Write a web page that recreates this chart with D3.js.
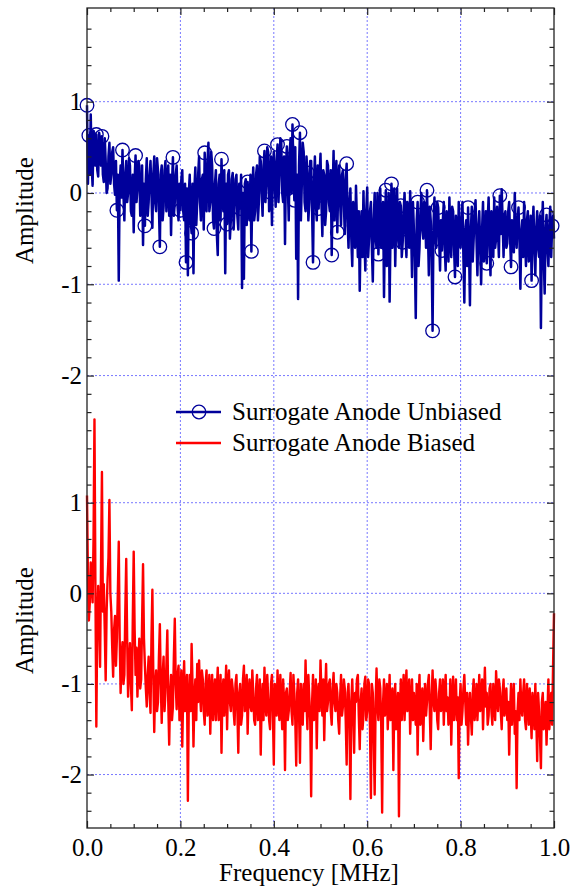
<!DOCTYPE html>
<html>
<head>
<meta charset="utf-8">
<script src="https://cdn.jsdelivr.net/npm/d3@7"></script>
<style>
  html, body { margin: 0; padding: 0; background: #fff; }
  svg { display: block; }
  svg text { font-family: 'Liberation Serif', 'DejaVu Serif', 'Times New Roman', Times, serif !important; }
</style>
</head>
<body>
<svg id="chart" width="580" height="888"></svg>
<script>
// ---------------- DATA ----------------
const freqStep = 0.002;               // MHz between samples (501 samples, 0..1 MHz)
const xTicks = [0, 0.2, 0.4, 0.6, 0.8, 1.0];
const xMinorTicks = d3.range(0, 1.0001, 0.05);
const yMajorTicks = [-2, -1, 0, 1];

const seriesNames = ["Surrogate Anode Unbiased", "Surrogate Anode Biased"];

// Surrogate Anode Unbiased (top panel)
const unbiased = [
  0.96, 0.1, 0.63, 0.2, 0.86, 0.3, 0.08, 0.68, 0.55, 0.3, 0.64, 0.25, 0.18, 0.66, 0.58, 0.3, 0.62, 0.2, 0.12, 0.6,
  0.35, 0.0, 0.05, 0.4, 0.55, 0.1, 0.2, 0.45, 0.5, 0.1, -0.02, 0.35, -0.19, 0.2, -0.96, 0.1, 0.3, -0.05, 0.47, 0.0,
  -0.3, 0.2, 0.35, -0.1, 0.0, 0.38, 0.3, -0.2, -0.25, 0.2, -0.43, 0.15, 0.41, -0.1, 0.05, 0.35, 0.3, -0.25, -0.15, 0.3,
  -0.57, 0.1, -0.36, 0.15, 0.38, -0.25, -0.1, 0.2, 0.35, 0.0, -0.38, 0.2, 0.4, -0.1, -0.2, 0.38, 0.25, -0.15, -0.59, 0.2,
  0.3, -0.3, -0.15, 0.25, 0.35, -0.2, 0.1, 0.3, -0.25, 0.2, -0.46, 0.1, 0.39, -0.25, -0.1, 0.2, 0.3, -0.15, -0.3, 0.1,
  -0.19, 0.15, 0.25, -0.2, -0.3, 0.1, -0.76, 0.05, -0.9, 0.0, 0.2, -0.3, -0.44, 0.1, -0.88, 0.05, 0.28, -0.35, -0.1, 0.2,
  0.4, -0.1, -0.3, 0.15, 0.2, -0.4, 0.44, 0.0, -0.2, 0.35, 0.55, -0.2, -0.1, 0.45, 0.3, -0.3, -0.39, 0.1, 0.25, -0.45,
  -0.68, 0.1, 0.2, -0.3, 0.37, 0.0, -0.2, 0.25, -0.88, 0.1, -0.34, 0.2, 0.25, -0.5, -0.3, 0.15, 0.22, -0.4, -0.15, 0.15,
  0.2, -0.25, -0.4, 0.1, -0.17, 0.2, -1.04, 0.0, -0.94, 0.1, 0.15, -0.35, 0.12, -0.2, -0.3, 0.2, -0.64, 0.0, 0.28, -0.3,
  -0.2, 0.2, 0.3, -0.3, -0.1, 0.4, 0.35, 0.0, -0.25, 0.3, 0.46, -0.1, 0.1, 0.5, 0.45, -0.2, 0.01, 0.4, -0.35, 0.25,
  0.45, 0.1, -0.15, 0.35, 0.53, -0.1, 0.2, 0.6, 0.55, 0.0, -0.1, 0.4, -0.56, 0.3, 0.51, 0.1, -0.3, 0.45, 0.6, 0.0,
  0.75, 0.3, -0.08, 0.5, -0.72, 0.2, -1.16, 0.3, 0.66, -0.3, 0.1, 0.55, 0.45, -0.1, -0.2, 0.4, 0.22, -0.3, -0.1, 0.35,
  0.35, -0.2, -0.76, 0.1, 0.4, -0.1, -0.3, 0.3, -0.17, 0.2, 0.43, -0.1, -0.47, 0.25, 0.2, -0.35, -0.2, 0.35, 0.3, -0.1,
  -0.2, 0.25, -0.68, 0.0, 0.46, -0.3, 0.1, 0.35, -0.43, 0.1, 0.3, -0.1, -0.35, 0.2, 0.25, -0.1, -0.45, 0.15, 0.32, -0.3,
  -0.6, -0.1, 0.05, -0.5, -0.8, -0.1, -0.36, -0.6, 0.08, -0.3, -0.7, -0.2, -1.07, -0.4, -0.2, -0.7, 0.02, -0.5, -0.85, -0.2,
  0.06, -0.7, -0.5, -0.2, -0.1, -0.6, -0.97, -0.3, 0.0, -0.5, -0.6, 0.0, -0.67, -0.3, 0.05, -0.6, -0.4, -0.1, -1.14, -0.3,
  0.03, -0.8, -0.5, 0.0, -1.19, -0.4, 0.10, -0.6, -0.3, 0.05, -0.8, -0.3, 0.05, -0.5, -0.6, -0.1, -0.14, -0.7, -0.54, -0.2,
  0.0, -0.45, -0.7, -0.1, -0.2, -0.6, 0.02, -0.4, -0.92, -0.1, -0.4, -0.7, -1.37, -0.3, -0.10, -0.8, -0.6, -0.2, 0.0, -0.4,
  -0.5, -0.1, -0.15, -0.6, 0.03, -0.4, -0.9, -0.15, -0.3, -0.7, -1.51, -0.35, -0.05, -0.5, -0.6, -0.1, -0.16, -0.5, -0.85, -0.3,
  -0.63, -0.3, -0.1, -0.6, -0.85, -0.2, -0.3, -0.75, -0.05, -0.45, -0.7, -0.15, -0.2, -0.6, -0.92, -0.25, -0.4, -0.8, -0.1, -0.45,
  -0.6, -0.3, -0.1, -0.7, -1.2, -0.4, -0.3, -0.8, -0.16, -0.6, -1.23, -0.4, -0.15, -0.75, -0.5, -0.2, -0.08, -0.5, -0.9, -0.4,
  -0.2, -0.6, -1.0, -0.4, -0.1, -0.75, -0.6, -0.2, -0.77, -0.3, -0.05, -0.55, -0.9, -0.2, -0.3, -0.7, -0.05, -0.6, -0.5, -0.15,
  -0.4, -0.7, -0.03, -0.45, 0.04, -0.3, -0.7, -0.25, -0.2, -0.6, -0.55, -0.2, -0.1, -0.5, -0.81, -0.3, -0.35, -0.65, 0.0, -0.4,
  -0.6, -0.3, -0.16, -0.5, -1.05, -0.45, -0.3, -0.7, -0.1, -0.5, -0.8, -0.3, -0.2, -0.75, -0.6, -0.25, -0.96, -0.4, -0.15, -0.6,
  -0.9, -0.4, -0.2, -0.6, -0.7, -0.25, -1.48, -0.5, -0.1, -0.7, -1.1, -0.4, -0.24, -0.6, -0.8, -0.35, -0.15, -0.7, -0.36, -0.25, -0.5
];

// sample indices of the unbiased series that carry a circle marker
const markerIdx = [0, 2, 10, 16, 32, 38, 52, 62, 78, 92, 100, 106, 112, 126, 136, 144, 150,
  164, 172, 176, 190, 196, 204, 214, 220, 222, 228, 236, 242, 248, 262, 268, 278, 286,
  312, 320, 326, 336, 338, 354, 364, 370, 376, 380, 394, 408, 428, 442, 454, 462,
  476, 492, 498];

// Surrogate Anode Biased (bottom panel)
const biased = [
  1.08, 0.2, -0.3, -0.1, 0.34, 0.1, -0.1, 0.6, 1.92, 0.1, -1.47, -0.3, 0.08, -0.3, -0.81, 0.3, 1.34, -0.2, 0.1, -0.4,
  -0.96, -0.2, 0.15, 0.4, 1.03, 0.0, -0.2, -0.6, -0.92, -0.4, -0.25, -0.8, -0.5, 0.0, 0.57, -0.5, -1.1, -0.7, -0.54, -1.0,
  -0.9, -0.2, 0.38, -0.5, -1.14, -0.8, -0.55, -1.0, -1.29, -0.3, 0.46, -0.4, -0.9, -0.6, -1.14, -0.8, -0.5, -1.05, -0.95, -0.3,
  0.32, -0.5, -0.8, -1.05, -1.25, -0.9, -0.7, -1.1, -1.32, -0.5, 0.04, -0.9, -1.53, -1.0, -0.85, -1.3, -1.2, -0.7, -0.34, -1.0,
  -1.43, -0.9, -0.7, -1.3, -1.1, -0.8, -0.41, -1.2, -1.67, -1.1, -0.9, -1.4, -1.25, -0.7, -0.28, -1.0, -1.28, -0.9, -0.8, -1.4,
  -1.2, -0.85, -1.69, -1.1, -0.75, -1.3, -1.1, -0.9, -2.29, -1.2, -0.9, -1.3, -0.56, -1.0, -1.69, -1.15, -0.95, -1.4, -0.78, -1.2,
  -0.74, -1.1, -1.3, -0.85, -0.95, -1.3, -1.45, -1.0, -0.85, -1.35, -1.2, -0.9, -1.55, -1.1, -0.9, -1.4, -1.15, -0.95, -1.4, -1.05,
  -0.82, -1.4, -1.25, -0.9, -1.76, -1.1, -0.95, -1.35, -1.1, -0.8, -1.5, -1.0, -0.85, -1.2, -1.3, -0.95, -1.05, -1.3, -1.45, -1.0,
  -0.9, -1.3, -1.76, -1.1, -1.0, -1.45, -1.35, -0.95, -0.8, -1.3, -1.2, -0.9, -1.55, -1.1, -0.95, -1.25, -1.3, -0.85, -1.1, -1.4,
  -1.45, -1.05, -0.9, -1.4, -1.25, -0.95, -1.78, -1.2, -1.0, -1.4, -0.82, -1.2, -1.35, -0.9, -1.15, -1.4, -1.5, -1.0, -0.9, -1.3,
  -1.89, -1.0, -1.1, -1.35, -0.85, -1.2, -1.4, -0.9, -1.2, -1.5, -0.95, -1.2, -1.95, -1.1, -1.05, -1.4, -1.3, -1.1, -0.88, -1.3,
  -1.45, -0.9, -1.1, -1.4, -1.9, -1.1, -0.95, -1.3, -1.87, -1.0, -1.2, -1.45, -1.0, -1.3, -0.74, -1.2, -1.5, -0.9, -1.15, -1.4,
  -2.24, -1.2, -0.9, -1.4, -1.3, -0.95, -1.71, -1.1, -1.0, -1.3, -0.74, -1.1, -1.35, -0.95, -1.62, -1.1, -0.78, -1.3, -1.2, -1.0,
  -0.95, -1.3, -1.45, -1.05, -0.88, -1.2, -1.3, -1.0, -1.1, -1.4, -1.55, -1.15, -0.9, -1.35, -1.25, -0.95, -1.05, -1.4, -1.89, -1.1,
  -1.0, -1.4, -2.27, -1.2, -0.95, -1.3, -1.76, -1.1, -1.2, -0.95, -0.9, -1.35, -1.72, -1.2, -1.05, -1.5, -1.35, -1.0, -0.92, -1.4,
  -1.3, -0.95, -1.0, -1.5, -2.26, -1.0, -1.1, -1.6, -2.22, -1.2, -0.83, -1.25, -1.4, -0.95, -1.05, -1.45, -2.42, -1.2, -0.95, -1.35,
  -1.25, -1.0, -1.5, -1.2, -0.9, -1.4, -1.2, -1.05, -1.95, -1.2, -1.0, -1.5, -1.3, -1.1, -2.46, -1.3, -0.95, -1.4, -1.15, -0.9,
  -1.4, -1.1, -0.85, -1.3, -1.2, -0.95, -1.55, -1.2, -0.95, -1.4, -1.1, -1.3, -1.45, -1.0, -1.78, -1.15, -0.9, -1.45, -1.3, -1.05,
  -1.63, -1.2, -1.0, -1.35, -1.2, -1.0, -0.9, -1.3, -1.72, -1.15, -0.85, -1.2, -1.3, -0.95, -1.1, -1.4, -1.5, -1.1, -0.95, -1.3,
  -1.25, -0.95, -1.45, -1.1, -0.9, -1.3, -1.15, -1.45, -1.35, -0.95, -1.67, -1.2, -0.92, -1.4, -1.2, -0.95, -1.4, -1.15, -2.04, -1.2,
  -1.0, -1.45, -1.3, -1.05, -0.9, -1.2, -1.45, -1.1, -1.67, -1.3, -1.1, -1.35, -1.56, -1.1, -0.95, -1.4, -1.25, -1.0, -1.4, -1.15,
  -0.9, -1.3, -1.2, -0.95, -1.5, -1.15, -0.82, -1.25, -1.1, -1.45, -1.35, -1.05, -1.0, -1.3, -1.45, -1.0, -1.2, -1.4, -0.86, -1.1,
  -1.3, -0.95, -1.05, -1.3, -1.5, -1.1, -0.95, -1.35, -1.25, -1.05, -1.4, -1.2, -1.78, -1.3, -1.0, -1.45, -1.2, -1.0, -1.55, -1.3,
  -2.15, -1.3, -1.1, -1.4, -0.95, -1.25, -1.35, -1.1, -0.95, -1.4, -1.5, -1.0, -1.2, -1.45, -1.05, -1.3, -1.6, -1.1, -1.25, -1.5,
  -1.0, -1.35, -1.85, -1.1, -1.3, -1.6, -1.93, -1.2, -1.1, -1.5, -1.4, -1.2, -1.67, -1.3, -0.95, -1.5, -1.3, -1.1, -1.45, -0.8, -0.22
];

// ---------------- LAYOUT ----------------
const X0 = 87, X1 = 554, YT = 8, YM = 413, YB = 828;
const blue = "#00009b", red = "#ff0000", gridCol = "#7878ff";
const FONT = 25;
const SERIF = "'Liberation Serif', 'DejaVu Serif', 'Times New Roman', Times, serif";

const svg = d3.select("#chart").style("font-family", SERIF);
const x = d3.scaleLinear().domain([0, 1]).range([X0, X1]);
const yTop = d3.scaleLinear().domain([-2.41, 2.026]).range([YM, YT]);
const yBot = d3.scaleLinear().domain([-2.59, 1.99]).range([YB, YM]);

// ---------- grid ----------
const grid = svg.append("g").attr("stroke", gridCol).attr("stroke-width", 1)
  .attr("stroke-dasharray", "2,2").attr("fill", "none");
xTicks.filter(t => t > 0 && t < 1).forEach(t => {
  grid.append("line").attr("x1", x(t)).attr("x2", x(t)).attr("y1", YT).attr("y2", YB);
});
[yTop, yBot].forEach(y => {
  yMajorTicks.forEach(t => {
    grid.append("line").attr("x1", X0).attr("x2", X1).attr("y1", y(t)).attr("y2", y(t));
  });
});

// ---------- series ----------
const lineTop = d3.line().x((d, i) => x(i * freqStep)).y(d => yTop(d));
const lineBot = d3.line().x((d, i) => x(i * freqStep)).y(d => yBot(d));

svg.append("path").datum(biased).attr("d", lineBot)
  .attr("fill", "none").attr("stroke", red).attr("stroke-width", 2.4)
  .attr("stroke-linejoin", "round");

svg.append("path").datum(unbiased).attr("d", lineTop)
  .attr("fill", "none").attr("stroke", blue).attr("stroke-width", 2.5)
  .attr("stroke-linejoin", "round");

svg.append("g").selectAll("circle").data(markerIdx).join("circle")
  .attr("cx", i => x(i * freqStep)).attr("cy", i => yTop(unbiased[i]))
  .attr("r", 6.8).attr("fill", "none").attr("stroke", blue).attr("stroke-width", 1.3);

// ---------- axes ----------
function styleAxis(g) {
  g.attr("font-family", null).attr("font-size", null);
  g.select(".domain").remove();
  g.selectAll(".tick line").attr("stroke", "#222").attr("stroke-width", 1.2);
  g.selectAll(".tick text").attr("fill", "#000").style("font-size", FONT + "px")
    .style("font-family", SERIF);
}

[[yTop, d3.range(-24, 19, 2).map(v => v / 10)], [yBot, d3.range(-24, 21, 2).map(v => v / 10)]]
  .forEach(([y, minorVals]) => {
    const minors = minorVals.filter(v => Math.abs(v - Math.round(v)) > 1e-6);
    svg.append("g").attr("transform", `translate(${X0},0)`)
      .call(d3.axisLeft(y).tickValues(yMajorTicks).tickSize(-7).tickPadding(5).tickFormat(d => String(d)))
      .call(styleAxis);
    svg.append("g").attr("transform", `translate(${X0},0)`)
      .call(d3.axisLeft(y).tickValues(minors).tickSize(-4.5).tickFormat(""))
      .call(styleAxis);
    svg.append("g").attr("transform", `translate(${X1},0)`)
      .call(d3.axisRight(y).tickValues(yMajorTicks).tickSize(-7).tickFormat(""))
      .call(styleAxis);
    svg.append("g").attr("transform", `translate(${X1},0)`)
      .call(d3.axisRight(y).tickValues(minors).tickSize(-4.5).tickFormat(""))
      .call(styleAxis);
  });

const xMinors = xMinorTicks.filter(v => xTicks.every(t => Math.abs(t - v) > 1e-6));
svg.append("g").attr("transform", `translate(0,${YB})`)
  .call(d3.axisBottom(x).tickValues(xTicks).tickSize(-7).tickPadding(10).tickFormat(d3.format(".1f")))
  .call(styleAxis);
svg.append("g").attr("transform", `translate(0,${YB})`)
  .call(d3.axisBottom(x).tickValues(xMinors).tickSize(-4).tickFormat(""))
  .call(styleAxis);
svg.append("g").attr("transform", `translate(0,${YT})`)
  .call(d3.axisTop(x).tickValues(xTicks).tickSize(-7).tickFormat(""))
  .call(styleAxis);
svg.append("g").attr("transform", `translate(0,${YT})`)
  .call(d3.axisTop(x).tickValues(xMinors).tickSize(-4).tickFormat(""))
  .call(styleAxis);

// frame
svg.append("rect").attr("x", X0).attr("y", YT).attr("width", X1 - X0).attr("height", YB - YT)
  .attr("fill", "none").attr("stroke", "#222").attr("stroke-width", 1.3);

// axis titles
svg.append("text").attr("x", 309).attr("y", 881).attr("text-anchor", "middle")
  .style("font-size", FONT + "px").style("font-family", SERIF).text("Frequency [MHz]");
[(YT + YM) / 2, (YM + YB) / 2].forEach(cy => {
  svg.append("text").attr("transform", `translate(33,${cy}) rotate(-90)`)
    .attr("text-anchor", "middle").style("font-size", FONT + "px").style("font-family", SERIF)
    .text("Amplitude");
});

// ---------- legend ----------
const leg = svg.append("g");
const legItems = [
  { name: seriesNames[0], color: blue, marker: true, y: 412 },
  { name: seriesNames[1], color: red, marker: false, y: 443 }
];
legItems.forEach(it => {
  leg.append("line").attr("x1", 176).attr("x2", 221).attr("y1", it.y).attr("y2", it.y)
    .attr("stroke", it.color).attr("stroke-width", 2.6);
  if (it.marker) {
    leg.append("circle").attr("cx", 199).attr("cy", it.y).attr("r", 6.8)
      .attr("fill", "none").attr("stroke", it.color).attr("stroke-width", 1.3);
  }
  leg.append("text").attr("x", 232).attr("y", it.y + 8)
    .style("font-size", FONT + "px").style("font-family", SERIF)
    .attr("fill", "#000").text(it.name);
});
</script>
</body>
</html>
